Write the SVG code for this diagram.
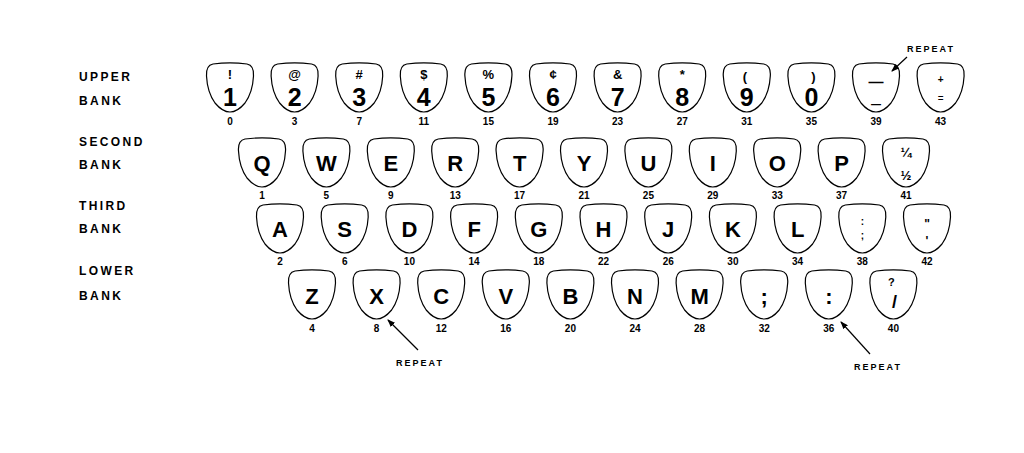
<svg xmlns="http://www.w3.org/2000/svg" width="1024" height="453" viewBox="0 0 1024 453">
<style>
.key{fill:#fff;stroke:#000;stroke-width:1.2}
.lbl{font-family:"Liberation Sans",Arial,sans-serif;font-weight:bold;font-size:12px;letter-spacing:2.4px;fill:#000}
.big{font-family:"Liberation Sans",Arial,sans-serif;font-weight:bold;font-size:22px;text-anchor:middle;fill:#000}
.dig{font-family:"Liberation Sans",Arial,sans-serif;font-weight:bold;font-size:25px;text-anchor:middle;fill:#000}
.sym{font-family:"Liberation Sans",Arial,sans-serif;font-weight:bold;font-size:13px;text-anchor:middle;fill:#000}
.num{font-family:"Liberation Sans",Arial,sans-serif;font-weight:bold;font-size:10px;text-anchor:middle;fill:#000}
.rep{font-family:"Liberation Sans",Arial,sans-serif;font-weight:bold;font-size:9px;letter-spacing:2px;text-anchor:middle;fill:#000}
.conn{stroke:#000;stroke-width:1.2;fill:none}
</style>
<defs>
<path id="k" d="M -17,-24 C -6,-25.5 6,-25.5 17,-24 C 22,-23 24,-19 23.5,-12 C 23,-2 20,8 15,15 C 10,21 5,24 0,24 C -5,24 -10,21 -15,15 C -20,8 -23,-2 -23.5,-12 C -24,-19 -22,-23 -17,-24 Z"/>
<marker id="ah" markerWidth="8" markerHeight="6" refX="7" refY="3" orient="auto" markerUnits="userSpaceOnUse">
<path d="M0,0 L8,3 L0,6 Z" fill="#000"/>
</marker>
</defs>
<rect width="1024" height="453" fill="#fff"/>

<g id="bank-labels">
<text class="lbl" x="79" y="81">UPPER</text>
<text class="lbl" x="79" y="105">BANK</text>
<text class="lbl" x="79" y="146">SECOND</text>
<text class="lbl" x="79" y="169">BANK</text>
<text class="lbl" x="79" y="210">THIRD</text>
<text class="lbl" x="79" y="233">BANK</text>
<text class="lbl" x="79" y="275">LOWER</text>
<text class="lbl" x="79" y="300">BANK</text>
</g>

<!-- Upper bank -->
<g id="key-1" transform="translate(230,88)"><use href="#k" class="key"/><text class="sym" x="0" y="-9">!</text><text class="dig" x="0" y="18">1</text><text class="num" x="0" y="37">0</text></g>
<g id="key-2" transform="translate(294.6,88)"><use href="#k" class="key"/><text class="sym" x="0" y="-9">@</text><text class="dig" x="0" y="18">2</text><text class="num" x="0" y="37">3</text></g>
<g id="key-3" transform="translate(359.2,88)"><use href="#k" class="key"/><text class="sym" x="0" y="-9">#</text><text class="dig" x="0" y="18">3</text><text class="num" x="0" y="37">7</text></g>
<g id="key-4" transform="translate(423.8,88)"><use href="#k" class="key"/><text class="sym" x="0" y="-9">$</text><text class="dig" x="0" y="18">4</text><text class="num" x="0" y="37">11</text></g>
<g id="key-5" transform="translate(488.4,88)"><use href="#k" class="key"/><text class="sym" x="0" y="-9">%</text><text class="dig" x="0" y="18">5</text><text class="num" x="0" y="37">15</text></g>
<g id="key-6" transform="translate(553,88)"><use href="#k" class="key"/><text class="sym" x="0" y="-9">¢</text><text class="dig" x="0" y="18">6</text><text class="num" x="0" y="37">19</text></g>
<g id="key-7" transform="translate(617.6,88)"><use href="#k" class="key"/><text class="sym" x="0" y="-9">&amp;</text><text class="dig" x="0" y="18">7</text><text class="num" x="0" y="37">23</text></g>
<g id="key-8" transform="translate(682.2,88)"><use href="#k" class="key"/><text class="sym" x="0" y="-9">*</text><text class="dig" x="0" y="18">8</text><text class="num" x="0" y="37">27</text></g>
<g id="key-9" transform="translate(746.8,88)"><use href="#k" class="key"/><text class="sym" x="-2" y="-7">(</text><text class="dig" x="0" y="18">9</text><text class="num" x="0" y="37">31</text></g>
<g id="key-0" transform="translate(811.4,88)"><use href="#k" class="key"/><text class="sym" x="2" y="-7">)</text><text class="dig" x="0" y="18">0</text><text class="num" x="0" y="37">35</text></g>
<g id="key-minus" transform="translate(876,88)"><use href="#k" class="key"/><text class="sym" x="0" y="-1" style="font-size:15px">—</text><text class="sym" x="0" y="21" style="font-size:18px;font-weight:normal">–</text><text class="num" x="0" y="37">39</text></g>
<g id="key-plus" transform="translate(940.6,88)"><use href="#k" class="key"/><text class="sym" x="0" y="-5" style="font-size:10px">+</text><text class="sym" x="0" y="14" style="font-size:10px;font-weight:normal">=</text><text class="num" x="0" y="37">43</text></g>

<!-- Second bank -->
<g id="key-q" transform="translate(262,163)"><use href="#k" class="key"/><text class="big" x="0" y="8">Q</text><text class="num" x="0" y="36">1</text></g>
<g id="key-w" transform="translate(326.4,163)"><use href="#k" class="key"/><text class="big" x="0" y="8">W</text><text class="num" x="0" y="36">5</text></g>
<g id="key-e" transform="translate(390.8,163)"><use href="#k" class="key"/><text class="big" x="0" y="8">E</text><text class="num" x="0" y="36">9</text></g>
<g id="key-r" transform="translate(455.2,163)"><use href="#k" class="key"/><text class="big" x="0" y="8">R</text><text class="num" x="0" y="36">13</text></g>
<g id="key-t" transform="translate(519.6,163)"><use href="#k" class="key"/><text class="big" x="0" y="8">T</text><text class="num" x="0" y="36">17</text></g>
<g id="key-y" transform="translate(584,163)"><use href="#k" class="key"/><text class="big" x="0" y="8">Y</text><text class="num" x="0" y="36">21</text></g>
<g id="key-u" transform="translate(648.4,163)"><use href="#k" class="key"/><text class="big" x="0" y="8">U</text><text class="num" x="0" y="36">25</text></g>
<g id="key-i" transform="translate(712.8,163)"><use href="#k" class="key"/><text class="big" x="0" y="8">I</text><text class="num" x="0" y="36">29</text></g>
<g id="key-o" transform="translate(777.2,163)"><use href="#k" class="key"/><text class="big" x="0" y="8">O</text><text class="num" x="0" y="36">33</text></g>
<g id="key-p" transform="translate(841.6,163)"><use href="#k" class="key"/><text class="big" x="0" y="8">P</text><text class="num" x="0" y="36">37</text></g>
<g id="key-frac" transform="translate(906,163)"><use href="#k" class="key"/><text class="sym" x="0" y="-6">¼</text><text class="sym" x="0" y="17">½</text><text class="num" x="0" y="36">41</text></g>

<!-- Third bank -->
<g id="key-a" transform="translate(280,229)"><use href="#k" class="key"/><text class="big" x="0" y="8">A</text><text class="num" x="0" y="36">2</text></g>
<g id="key-s" transform="translate(344.7,229)"><use href="#k" class="key"/><text class="big" x="0" y="8">S</text><text class="num" x="0" y="36">6</text></g>
<g id="key-d" transform="translate(409.4,229)"><use href="#k" class="key"/><text class="big" x="0" y="8">D</text><text class="num" x="0" y="36">10</text></g>
<g id="key-f" transform="translate(474.1,229)"><use href="#k" class="key"/><text class="big" x="0" y="8">F</text><text class="num" x="0" y="36">14</text></g>
<g id="key-g" transform="translate(538.8,229)"><use href="#k" class="key"/><text class="big" x="0" y="8">G</text><text class="num" x="0" y="36">18</text></g>
<g id="key-h" transform="translate(603.5,229)"><use href="#k" class="key"/><text class="big" x="0" y="8">H</text><text class="num" x="0" y="36">22</text></g>
<g id="key-j" transform="translate(668.2,229)"><use href="#k" class="key"/><text class="big" x="0" y="8">J</text><text class="num" x="0" y="36">26</text></g>
<g id="key-k" transform="translate(732.9,229)"><use href="#k" class="key"/><text class="big" x="0" y="8">K</text><text class="num" x="0" y="36">30</text></g>
<g id="key-l" transform="translate(797.6,229)"><use href="#k" class="key"/><text class="big" x="0" y="8">L</text><text class="num" x="0" y="36">34</text></g>
<g id="key-semi" transform="translate(862.3,229)"><use href="#k" class="key"/><text class="sym" x="0" y="-4" style="font-size:10px">:</text><text class="sym" x="0" y="10" style="font-size:10px">;</text><text class="num" x="0" y="36">38</text></g>
<g id="key-quote" transform="translate(927,229)"><use href="#k" class="key"/><text class="sym" x="0" y="-1" style="font-size:12px">"</text><text class="sym" x="0" y="16" style="font-size:12px">'</text><text class="num" x="0" y="36">42</text></g>

<!-- Lower bank -->
<g id="key-z" transform="translate(312,295)"><use href="#k" class="key"/><text class="big" x="0" y="9">Z</text><text class="num" x="0" y="37">4</text></g>
<g id="key-x" transform="translate(376.6,295)"><use href="#k" class="key"/><text class="big" x="0" y="9">X</text><text class="num" x="0" y="37">8</text></g>
<g id="key-c" transform="translate(441.2,295)"><use href="#k" class="key"/><text class="big" x="0" y="9">C</text><text class="num" x="0" y="37">12</text></g>
<g id="key-v" transform="translate(505.8,295)"><use href="#k" class="key"/><text class="big" x="0" y="9">V</text><text class="num" x="0" y="37">16</text></g>
<g id="key-b" transform="translate(570.4,295)"><use href="#k" class="key"/><text class="big" x="0" y="9">B</text><text class="num" x="0" y="37">20</text></g>
<g id="key-n" transform="translate(635,295)"><use href="#k" class="key"/><text class="big" x="0" y="9">N</text><text class="num" x="0" y="37">24</text></g>
<g id="key-m" transform="translate(699.6,295)"><use href="#k" class="key"/><text class="big" x="0" y="9">M</text><text class="num" x="0" y="37">28</text></g>
<g id="key-comma" transform="translate(764.2,295)"><use href="#k" class="key"/><text class="big" x="0" y="9">;</text><text class="num" x="0" y="37">32</text></g>
<g id="key-period" transform="translate(828.8,295)"><use href="#k" class="key"/><text class="big" x="0" y="9">:</text><text class="num" x="0" y="37">36</text></g>
<g id="key-slash" transform="translate(893.4,295)"><use href="#k" class="key"/><text class="sym" x="-2" y="-9" style="font-size:11px">?</text><text class="big" x="1" y="13" style="font-size:18px">/</text><text class="num" x="0" y="37">40</text></g>

<g id="repeat-labels">
<text class="rep" x="931" y="52">REPEAT</text>
<text class="rep" x="420" y="366">REPEAT</text>
<text class="rep" x="878" y="370">REPEAT</text>
</g>

<g id="connectors">
<line class="conn" x1="907" y1="57" x2="892" y2="71" marker-end="url(#ah)"/>
<line class="conn" x1="418" y1="350" x2="388" y2="320" marker-end="url(#ah)"/>
<line class="conn" x1="870" y1="354" x2="841" y2="322" marker-end="url(#ah)"/>
</g>
</svg>
